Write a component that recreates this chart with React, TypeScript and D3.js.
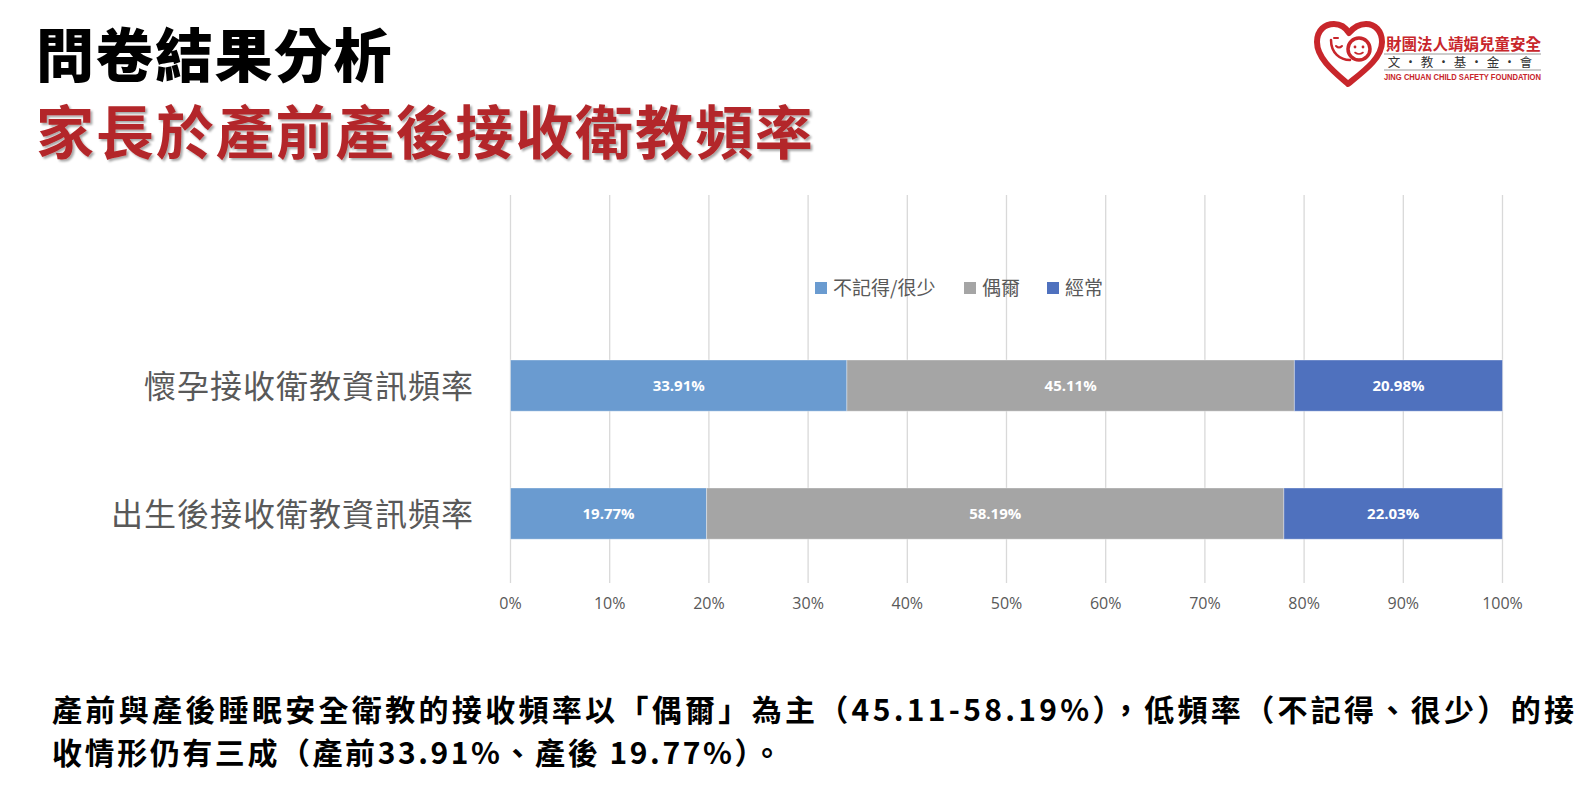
import { useMemo } from 'react'
import * as d3 from 'd3'

const categories = ['懷孕接收衛教資訊頻率', '出生後接收衛教資訊頻率']
const seriesNames = ['不記得/很少', '偶爾', '經常']
const rarely = [33.91, 19.77]
const sometimes = [45.11, 58.19]
const often = [20.98, 22.03]
const tickValues = [0, 10, 20, 30, 40, 50, 60, 70, 80, 90, 100]
const colors = ['#6a9bd0', '#a5a5a5', '#4f71be']

const titleMain = '問卷結果分析'
const titleSub = '家長於產前產後接收衛教頻率'
const noteLines = [
  '產前與產後睡眠安全衛教的接收頻率以「偶爾」為主（45.11-58.19%），低頻率（不記得、很少）的接',
  '收情形仍有三成（產前33.91%、產後 19.77%）。',
]
const noteWidths = [1522, 730]

const W = 1588
const H = 794
const CJK = '"Noto Sans CJK TC", "Noto Sans", sans-serif'

function Logo() {
  return (
    <g transform="translate(-2,0)">
      {/* heart */}
      <path
        d="M1350,84 C1335,71 1319,58 1319,42 C1319,30 1327,24 1336,24 C1343,24 1348,28 1351,33 C1355,28 1361,24 1368,24 C1377,24 1384,31 1384,42 C1384,58 1366,71 1350,84 Z"
        fill="none"
        stroke="#c8262b"
        strokeWidth={6}
        strokeLinejoin="round"
      />
      {/* mother face */}
      <path d="M1333,40 C1333,53 1342,60 1352,60" fill="none" stroke="#c8262b" strokeWidth={2.5} strokeLinecap="round" />
      <path d="M1336,38 l4,0" stroke="#c8262b" strokeWidth={2} strokeLinecap="round" />
      <path d="M1338,46 q3,3 6,0" fill="none" stroke="#c8262b" strokeWidth={2} strokeLinecap="round" />
      {/* child face */}
      <circle cx={1361} cy={49} r={11} fill="#fff" stroke="#c8262b" strokeWidth={3.5} />
      <circle cx={1357} cy={47} r={1.4} fill="#c8262b" />
      <circle cx={1365} cy={47} r={1.4} fill="#c8262b" />
      <path d="M1357,52.5 q4,3 8,0" fill="none" stroke="#c8262b" strokeWidth={1.6} strokeLinecap="round" />
      <text x={1388} y={49.5} fontFamily={CJK} fontSize={15.5} fontWeight={700} fill="#c8262b" textLength={155} lengthAdjust="spacingAndGlyphs">
        財團法人靖娟兒童安全
      </text>
      <line x1={1386} x2={1543} y1={54} y2={54} stroke="#999" strokeWidth={1} />
      <text x={1464} y={67} fontFamily={CJK} fontSize={12.5} fill="#333" textAnchor="middle" letterSpacing={4}>
        文・教・基・金・會
      </text>
      <line x1={1386} x2={1543} y1={70} y2={70} stroke="#999" strokeWidth={1} />
      <text x={1386} y={80} fontFamily="'Liberation Sans', Arial, sans-serif" fontSize={8.5} fontWeight={700} fill="#c8262b" textLength={157} lengthAdjust="spacingAndGlyphs">
        JING CHUAN CHILD SAFETY FOUNDATION
      </text>
    </g>
  )
}

export default function App() {
  const x0 = 510.5
  const x1 = 1502.5
  const gridTop = 195
  const gridBottom = 583

  const x = useMemo(() => d3.scaleLinear().domain([0, 100]).range([x0, x1]), [])
  const y = useMemo(
    () => d3.scaleBand<string>().domain(categories).range([321.6, 577.6]).paddingInner(0.6).paddingOuter(0.3),
    []
  )

  const rows = categories.map((c, i) => ({ cat: c, a: rarely[i], b: sometimes[i], c: often[i] }))
  const stacked = d3.stack<any>().keys(['a', 'b', 'c'])(rows)

  const legendX = [815, 964, 1047]

  return (
    <div style={{ position: 'absolute', left: 0, top: 0 }}>
      <svg width={W} height={H} style={{ display: 'block', background: '#fff' }}>
        <defs>
          <filter id="shadow" x="-5%" y="-20%" width="110%" height="150%">
            <feDropShadow dx={2} dy={2} stdDeviation={1.2} floodColor="#000" floodOpacity={0.35} />
          </filter>
        </defs>

        {/* titles */}
        <text x={36} y={77} fontFamily={CJK} fontSize={58} fontWeight={900} fill="#000" letterSpacing={1.5}>
          {titleMain}
        </text>
        <text x={36} y={154} fontFamily={CJK} fontSize={58} fontWeight={700} fill="#b3282a" letterSpacing={1.9} filter="url(#shadow)">
          {titleSub}
        </text>

        <Logo />

        {/* gridlines */}
        {tickValues.map(t => (
          <line key={t} x1={x(t)} x2={x(t)} y1={gridTop} y2={gridBottom} stroke="#d9d9d9" strokeWidth={1.3} />
        ))}

        {/* tick labels */}
        {tickValues.map(t => (
          <text key={'t' + t} x={x(t)} y={609} textAnchor="middle" fontFamily="'Open Sans', sans-serif" fontSize={16} fill="#595959">
            {t}%
          </text>
        ))}

        {/* legend */}
        {seriesNames.map((s, i) => (
          <g key={s}>
            <rect x={legendX[i]} y={282} width={12} height={12} fill={colors[i]} />
            <text x={legendX[i] + 18} y={295} fontFamily={CJK} fontSize={19} fill="#595959">
              {s}
            </text>
          </g>
        ))}

        {/* bars */}
        {stacked.map((layer, li) =>
          layer.map((d, i) => {
            const cat = categories[i]
            const xs = x(d[0])
            const xe = x(d[1])
            const by = y(cat)!
            const bh = y.bandwidth()
            const v = d[1] - d[0]
            return (
              <g key={li + '-' + i}>
                <rect x={xs} y={by} width={xe - xs} height={bh} fill={colors[li]} stroke="#fff" strokeOpacity={0.35} strokeWidth={1} />
                <text
                  x={(xs + xe) / 2}
                  y={by + bh / 2 + 5.5}
                  textAnchor="middle"
                  fontFamily="'Open Sans', sans-serif"
                  fontSize={15}
                  fontWeight={700}
                  fill="#fff"
                >
                  {v.toFixed(2)}%
                </text>
              </g>
            )
          })
        )}

        {/* category labels */}
        {categories.map(c => (
          <text key={c} x={474} y={y(c)! + y.bandwidth() / 2 + 12} textAnchor="end" fontFamily={CJK} fontSize={32} fill="#595959" letterSpacing={1}>
            {c}
          </text>
        ))}

        {/* note */}
        {noteLines.map((l, i) => (
          <text key={i} x={52} y={721 + i * 43} fontFamily={CJK} fontSize={30} fontWeight={700} fill="#000" textLength={noteWidths[i]} lengthAdjust="spacing">
            {l}
          </text>
        ))}
      </svg>
    </div>
  )
}
